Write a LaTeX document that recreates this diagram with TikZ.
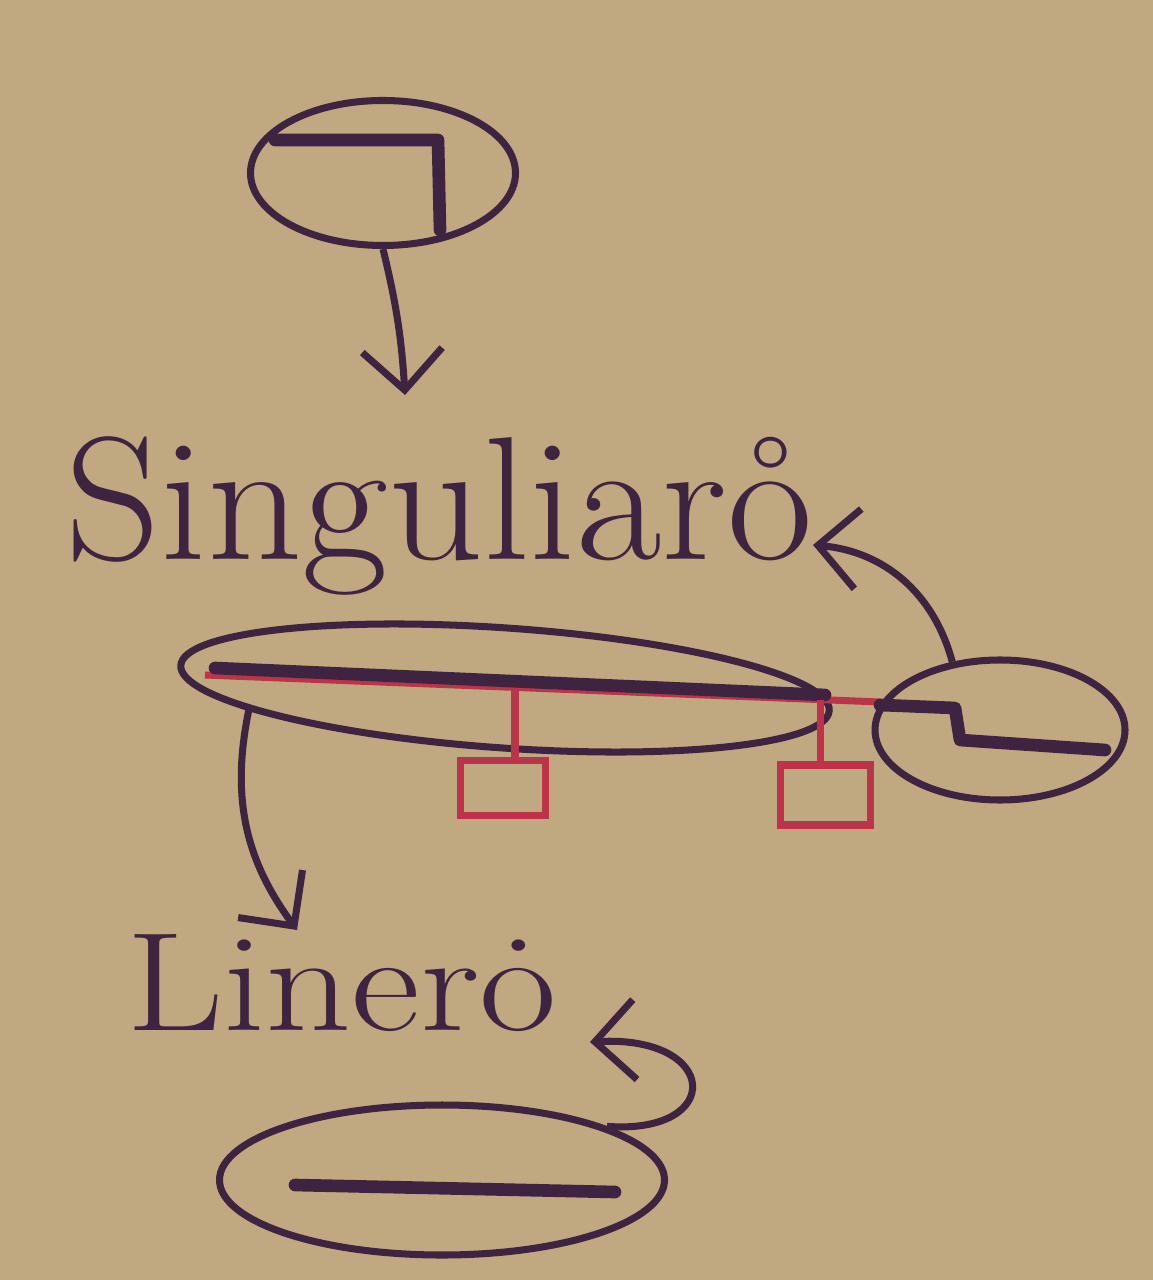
\documentclass[tikz,border=0pt]{standalone}
\usepackage{tikz}
\usetikzlibrary{shapes.geometric,arrows.meta,positioning}
\definecolor{paper}{RGB}{192,168,128}
\definecolor{ink}{RGB}{62,36,64}
\definecolor{redink}{RGB}{188,52,74}

\begin{document}
\begin{tikzpicture}[->,>={Straight Barb[length=4mm,width=8mm]},line width=2pt,draw=ink,
      main node/.style={ellipse,draw=ink,line width=2pt,inner sep=0pt},
      box node/.style={rectangle,draw=redink,line width=2pt,minimum width=0.85cm,minimum height=0.55cm,inner sep=0pt},
      word/.style={text=ink,inner sep=0pt},
      bar/.style={-,line width=3.6pt,ink,line cap=round,line join=round},
      redline/.style={-,line width=2pt,redink}]
      \path[-,fill=paper,use as bounding box] (0,0) rectangle (11.53,-12.8);

      \node[main node,minimum width=2.65cm,minimum height=1.45cm] (top) at (3.83,-1.73) {};
      \node[word,anchor=base west,xscale=1.06,font=\fontsize{50}{52}\selectfont] (singword) at (0.62,-5.6) {Singuliar\r{o}};
      \node[main node,minimum width=6.5cm,minimum height=1.2cm,rotate=-4] (sing) at (5.05,-6.88) {};
      \node[main node,minimum width=2.5cm,minimum height=1.4cm] (step) at (10.0,-7.3) {};
      \node[box node] (b1) at (5.03,-7.88) {};
      \node[box node,minimum width=0.9cm,minimum height=0.6cm] (b2) at (8.25,-7.95) {};
      \node[word,anchor=base west,xscale=1.2,font=\fontsize{40}{42}\selectfont] (linword) at (1.22,-10.3) {Liner\.{o}};
      \node[main node,minimum width=4.45cm,minimum height=1.5cm] (low) at (4.42,-11.8) {};

      \coordinate (t1) at (4.05,-3.95);
      \coordinate (t2) at (8.13,-5.45);
      \coordinate (t3) at (2.97,-9.3);
      \coordinate (t4) at (5.9,-10.42);

      % strokes inside the ellipses
      \draw[bar] (2.75,-1.40) -- (4.38,-1.40) -- (4.40,-2.30);
      \draw[redline] (2.05,-6.75) -- (8.3,-7.0) -- (8.8,-7.02);
      \draw[bar] (2.15,-6.68) -- (8.25,-6.95);
      \draw[bar] (8.8,-7.05) -- (9.55,-7.08) -- (9.6,-7.4) -- (11.05,-7.5);
      \draw[bar] (2.95,-11.85) -- (6.15,-11.92);
      \draw[redline] (5.15,-6.9) -- (b1.north -| 5.15,0);
      \draw[redline] (8.2,-7.0) -- (b2.north -| 8.2,0);

      \path[->]
        (top.south) edge [bend left=5] (t1)
        (step.125) edge [bend right=35] (t2)
        (sing.189) edge [bend right=24] (t3);
      \draw[->] (low.18) .. controls (7.25,-11.35) and (7.2,-10.35) .. (t4);
    \end{tikzpicture}
\end{document}
